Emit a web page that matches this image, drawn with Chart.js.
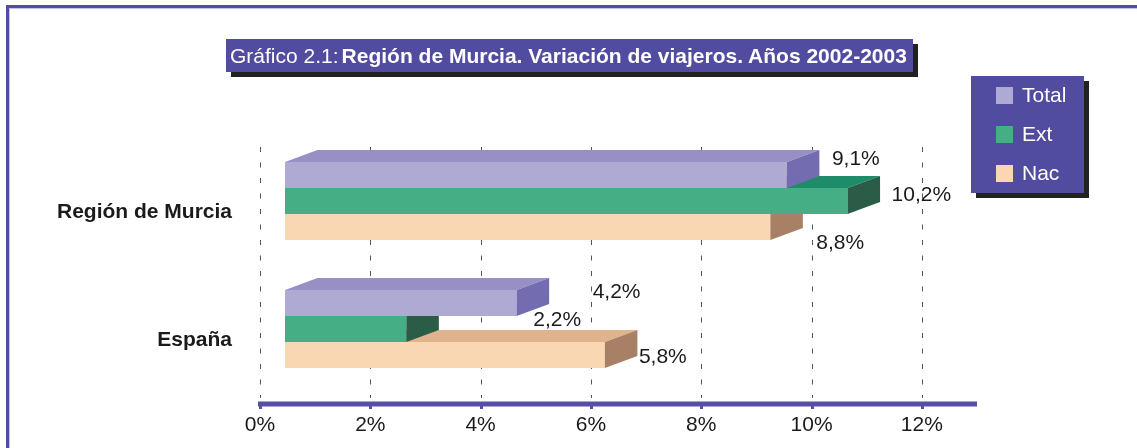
<!DOCTYPE html>
<html>
<head>
<meta charset="utf-8">
<script src="https://cdn.jsdelivr.net/npm/chart.js@4.4.1/dist/chart.umd.min.js"></script>
<style>
  html, body { margin:0; padding:0; background:#fff; }
  #wrap { position:relative; width:1137px; height:448px; overflow:hidden; font-family:'Liberation Sans', Arial, sans-serif; }
  #frame { position:absolute; left:6px; top:5px; right:-10px; bottom:-10px; border-top:3px solid #524DA2; border-left:3px solid #524DA2; box-shadow: inset 1px 1px 0 #C4C1E4; }
  #title { position:absolute; left:226px; top:39px; width:687px; height:33px; background:#524CA0; box-shadow:5px 5px 0 #222; color:#fff; font-size:21px; line-height:33px; white-space:nowrap; padding-left:4px; box-sizing:border-box; }
  #title b { font-weight:bold; margin-left:3px; }
  #legend { position:absolute; left:971px; top:76px; width:113px; height:117px; background:#524CA0; box-shadow:5px 5px 0 #222; color:#fff; font-size:21px; }
  .li { position:absolute; left:25px; height:24px; line-height:24px; white-space:nowrap; }
  .sw { display:inline-block; width:17px; height:17px; vertical-align:-2px; margin-right:9px; }
  canvas { position:absolute; left:0; top:0; }
</style>
</head>
<body>
<div id="wrap">
  <div id="frame"></div>
  <canvas id="c" width="1137" height="448"></canvas>
  <div id="title"></div>
  <div id="legend"></div>
</div>
<script>
// ---- data ----
const categories = ['Región de Murcia', 'España'];
const seriesNames = ['Total', 'Ext', 'Nac'];
const totalValues = [9.1, 4.2];
const extValues = [10.2, 2.2];
const nacValues = [8.8, 5.8];
const tickValues = [0, 2, 4, 6, 8, 10, 12];
const titlePrefix = 'Gráfico 2.1:';
const titleMain = 'Región de Murcia. Variación de viajeros. Años 2002-2003';

// ---- styles ----
const FONT = "'Liberation Sans', Arial, sans-serif";
const frontColors = ['#AFAAD4', '#45AE84', '#F9D7B3'];
const topColors = ['#9890C4', '#1F8C69', '#DFB48C'];
const sideColors = ['#746CB0', '#2A5C48', '#A78065'];
const DX = 32.5, DY = 12;       // 3D depth
const BAR_SHIFT_PX = 25;         // front face offset from the back wall
// label nudges relative to bar end / bar centre [series][category]
const labelNudge = [
  [[45, -16], [76, -11]],
  [[44, -6], [127, -9]],
  [[46, 16], [34, 2]]
];

const fmt = v => v.toFixed(1).replace('.', ',') + '%';

document.getElementById('title').innerHTML = titlePrefix + '<b>' + titleMain + '</b>';
const leg = document.getElementById('legend');
seriesNames.forEach((n, i) => {
  const d = document.createElement('div');
  d.className = 'li';
  d.style.top = (7 + i * 39) + 'px';
  d.innerHTML = '<span class="sw" style="background:' + frontColors[i] + '"></span>' + n;
  leg.appendChild(d);
});

const pxPerUnit = (1137 - 160 - 260) / 13;
const shiftUnits = BAR_SHIFT_PX / pxPerUnit;

const threeD = {
  id: 'threeD',
  beforeDatasetsDraw(chart) {
    const ctx = chart.ctx, xs = chart.scales.x, a = chart.chartArea;
    ctx.save();
    ctx.strokeStyle = '#555';
    ctx.lineWidth = 1;
    ctx.setLineDash([5, 10.5]);
    tickValues.forEach(v => {
      const px = Math.round(xs.getPixelForValue(v)) + 0.5;
      ctx.beginPath();
      ctx.moveTo(px, a.top + 10);
      ctx.lineTo(px, a.bottom + 5);
      ctx.stroke();
    });
    ctx.setLineDash([]);
    // axis line
    const y0 = a.bottom + 11;
    ctx.fillStyle = '#5450A4';
    ctx.fillRect(xs.getPixelForValue(0) - 2, y0 - 2.5, a.right - xs.getPixelForValue(0) + 2, 5);
    tickValues.forEach(v => {
      const px = Math.round(xs.getPixelForValue(v));
      ctx.fillRect(px - 1, y0 + 2, 3, 3);
    });
    ctx.restore();
  },
  afterDatasetDraw(chart, args) {
    const ctx = chart.ctx, i = args.index;
    ctx.save();
    args.meta.data.forEach(el => {
      const p = el.getProps(['x', 'y', 'base', 'height'], true);
      const top = p.y - p.height / 2, bot = p.y + p.height / 2;
      ctx.fillStyle = topColors[i];
      ctx.beginPath();
      ctx.moveTo(p.base, top);
      ctx.lineTo(p.base + DX, top - DY);
      ctx.lineTo(p.x + DX, top - DY);
      ctx.lineTo(p.x, top);
      ctx.closePath();
      ctx.fill();
      ctx.fillStyle = sideColors[i];
      ctx.beginPath();
      ctx.moveTo(p.x, top);
      ctx.lineTo(p.x + DX, top - DY);
      ctx.lineTo(p.x + DX, bot - DY);
      ctx.lineTo(p.x, bot);
      ctx.closePath();
      ctx.fill();
    });
    ctx.restore();
  },
  afterDatasetsDraw(chart) {
    const ctx = chart.ctx;
    ctx.save();
    ctx.font = '21px ' + FONT;
    ctx.fillStyle = '#1a1a1a';
    ctx.textAlign = 'left';
    ctx.textBaseline = 'middle';
    chart.data.datasets.forEach((ds, i) => {
      chart.getDatasetMeta(i).data.forEach((el, j) => {
        const p = el.getProps(['x', 'y'], true);
        ctx.fillText(fmt(ds.data[j]), p.x + labelNudge[i][j][0], p.y + labelNudge[i][j][1]);
      });
    });
    ctx.restore();
  }
};

new Chart(document.getElementById('c'), {
  type: 'bar',
  data: {
    labels: categories,
    datasets: [
      { label: seriesNames[0], data: totalValues, backgroundColor: frontColors[0], xAxisID: 'xb' },
      { label: seriesNames[1], data: extValues, backgroundColor: frontColors[1], xAxisID: 'xb' },
      { label: seriesNames[2], data: nacValues, backgroundColor: frontColors[2], xAxisID: 'xb' }
    ]
  },
  options: {
    indexAxis: 'y',
    responsive: false,
    animation: false,
    events: [],
    categoryPercentage: 78 / 128,
    barPercentage: 1,
    layout: { padding: { left: 0, top: 137, right: 160, bottom: 0 } },
    plugins: { legend: { display: false }, title: { display: false }, tooltip: { enabled: false } },
    scales: {
      x: {
        type: 'linear', position: 'bottom', min: 0, max: 13,
        afterBuildTicks: s => { s.ticks = tickValues.map(v => ({ value: v })); },
        ticks: { callback: v => v + '%', font: { family: FONT, size: 21 }, color: '#1a1a1a', padding: 20, maxRotation: 0, autoSkip: false },
        grid: { display: false, drawTicks: false },
        border: { display: false },
        afterFit: s => { s.height = 55; }
      },
      xb: {
        type: 'linear', display: false, position: 'bottom',
        min: -shiftUnits, max: 13 - shiftUnits
      },
      y: {
        type: 'category', offset: true,
        ticks: { font: { family: FONT, size: 21, weight: 'bold' }, color: '#1a1a1a', padding: 28, labelOffset: 11 },
        grid: { display: false, drawTicks: false },
        border: { display: false },
        afterFit: s => { s.width = 260; }
      }
    }
  },
  plugins: [threeD]
});
</script>
</body>
</html>
